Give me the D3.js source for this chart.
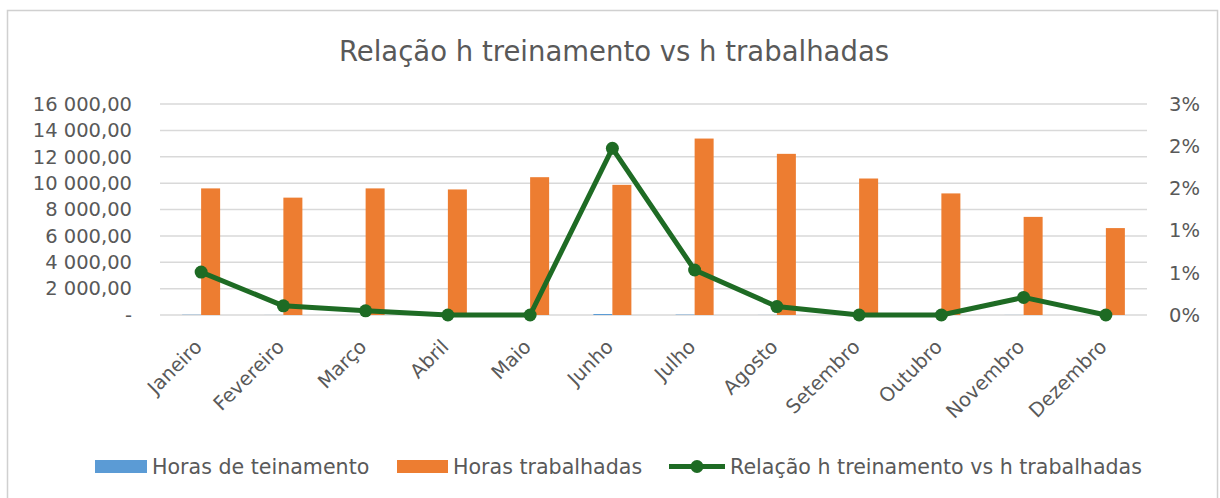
<!DOCTYPE html>
<html>
<head>
<meta charset="utf-8">
<script src="https://cdn.jsdelivr.net/npm/d3@7"></script>
<style>
  body { margin: 0; background: #fff; }
  svg { display: block; font-family: 'DejaVu Sans', sans-serif; }
</style>
</head>
<body>
<div class="chart"></div>
<script>
const WIDTH = 1220;
const HEIGHT = 498;
const PLOT = { left: 160, right: 1147, top: 104, bottom: 315 };

// data
const months = ['Janeiro', 'Fevereiro', 'Março', 'Abril', 'Maio', 'Junho',
	'Julho', 'Agosto', 'Setembro', 'Outubro', 'Novembro', 'Dezembro'];
const horasTreinamento = [20, 4, 2, 0, 0, 75, 28, 5, 0, 0, 6, 0];
const horasTrabalhadas = [9600, 8900, 9600, 9520, 10450, 9870, 13380, 12220, 10350, 9220, 7440, 6590];
const relacao = [0.0061, 0.0013, 0.0006, 0, 0, 0.0237, 0.0064, 0.0012, 0, 0, 0.0025, 0];
const leftTicks = [0, 2000, 4000, 6000, 8000, 10000, 12000, 14000, 16000];
const rightTicks = [0, 0.006, 0.012, 0.018, 0.024, 0.03];

const GREY = '#595959';
const BLUE = '#5b9bd5';
const ORANGE = '#ed7d31';
const GREEN = '#1e6b24';
const FONT = "'DejaVu Sans', sans-serif";

const svg = d3
	.select('.chart')
	.append('svg')
	.attr('width', WIDTH)
	.attr('height', HEIGHT);

// chart border
svg.append('rect')
	.attr('x', 7.5)
	.attr('y', 10.5)
	.attr('width', 1210)
	.attr('height', 520)
	.attr('fill', 'none')
	.attr('stroke', '#d0d0d0')
	.attr('stroke-width', 1.5);

// title
svg.append('text')
	.attr('x', 614)
	.attr('y', 61)
	.attr('text-anchor', 'middle')
	.attr('fill', GREY)
	.style('font-size', '27.5px')
	.text('Relação h treinamento vs h trabalhadas');

// scales
const x = d3.scaleBand()
	.domain(months)
	.range([PLOT.left, PLOT.right]);

const yLeft = d3.scaleLinear()
	.domain([0, 16000])
	.range([PLOT.bottom, PLOT.top]);

const yRight = d3.scaleLinear()
	.domain([0, 0.03])
	.range([PLOT.bottom, PLOT.top]);

const ptBr = d3.formatLocale({ decimal: ',', thousands: ' ', grouping: [3], currency: ['R$', ''] });
const fmtLeft = v => (v === 0 ? '-' : ptBr.format(',.2f')(v));
const fmtRight = d3.format('.0%');

// gridlines
svg.append('g')
	.selectAll('line')
	.data(leftTicks)
	.enter()
	.append('line')
	.attr('x1', PLOT.left)
	.attr('x2', PLOT.right)
	.attr('y1', d => yLeft(d))
	.attr('y2', d => yLeft(d))
	.attr('stroke', '#d9d9d9')
	.attr('stroke-width', 1.5);

// left axis
const leftAxis = svg.append('g')
	.attr('transform', `translate(${PLOT.left - 28}, 0)`)
	.call(d3.axisLeft(yLeft).tickValues(leftTicks).tickFormat(fmtLeft).tickSize(0).tickPadding(0));
leftAxis.select('.domain').remove();
leftAxis.selectAll('text')
	.attr('fill', GREY)
	.style('font-size', '19.5px')
	.style('font-family', FONT);

// right axis
const rightAxis = svg.append('g')
	.attr('transform', `translate(${PLOT.right + 22}, 0)`)
	.call(d3.axisRight(yRight).tickValues(rightTicks).tickFormat(fmtRight).tickSize(0).tickPadding(0));
rightAxis.select('.domain').remove();
rightAxis.selectAll('text')
	.attr('fill', GREY)
	.style('font-size', '19.5px')
	.style('font-family', FONT);

// bars
const BARW = 19;

svg.append('g')
	.selectAll('rect')
	.data(horasTreinamento)
	.enter()
	.append('rect')
	.attr('x', (d, i) => x(months[i]) + x.bandwidth() / 2 - BARW)
	.attr('y', d => yLeft(d))
	.attr('width', BARW)
	.attr('height', d => yLeft(0) - yLeft(d))
	.attr('fill', BLUE);

svg.append('g')
	.selectAll('rect')
	.data(horasTrabalhadas)
	.enter()
	.append('rect')
	.attr('x', (d, i) => x(months[i]) + x.bandwidth() / 2)
	.attr('y', d => yLeft(d))
	.attr('width', BARW)
	.attr('height', d => yLeft(0) - yLeft(d))
	.attr('fill', ORANGE);

// ratio line on right axis
const line = d3.line()
	.x((d, i) => x(months[i]) + x.bandwidth() / 2)
	.y(d => yRight(d));

svg.append('path')
	.datum(relacao)
	.attr('d', line)
	.attr('fill', 'none')
	.attr('stroke', GREEN)
	.attr('stroke-width', 5)
	.attr('stroke-linejoin', 'round');

svg.append('g')
	.selectAll('circle')
	.data(relacao)
	.enter()
	.append('circle')
	.attr('cx', (d, i) => x(months[i]) + x.bandwidth() / 2)
	.attr('cy', d => yRight(d))
	.attr('r', 6.5)
	.attr('fill', GREEN);

// x axis labels
const xAxis = svg.append('g')
	.attr('transform', `translate(0, ${PLOT.bottom})`)
	.call(d3.axisBottom(x).tickSize(0).tickPadding(0));
xAxis.select('.domain').remove();
xAxis.selectAll('text')
	.attr('fill', GREY)
	.style('font-size', '19.5px')
	.style('font-family', FONT)
	.attr('text-anchor', 'end')
	.attr('dy', null)
	.attr('y', 0)
	.attr('transform', 'translate(2, 33) rotate(-45)');

// legend
const legend = svg.append('g')
	.style('font-size', '20.6px')
	.attr('fill', GREY);

legend.append('rect').attr('x', 95).attr('y', 460).attr('width', 52).attr('height', 13).attr('fill', BLUE);
legend.append('text').attr('x', 152).attr('y', 474).text('Horas de teinamento');

legend.append('rect').attr('x', 397).attr('y', 460).attr('width', 51).attr('height', 13).attr('fill', ORANGE);
legend.append('text').attr('x', 453).attr('y', 474).text('Horas trabalhadas');

legend.append('line').attr('x1', 669).attr('x2', 725).attr('y1', 466.5).attr('y2', 466.5)
	.attr('stroke', GREEN).attr('stroke-width', 5);
legend.append('circle').attr('cx', 697).attr('cy', 466.5).attr('r', 6.5).attr('fill', GREEN);
legend.append('text').attr('x', 730).attr('y', 474).text('Relação h treinamento vs h trabalhadas');
</script>
</body>
</html>
